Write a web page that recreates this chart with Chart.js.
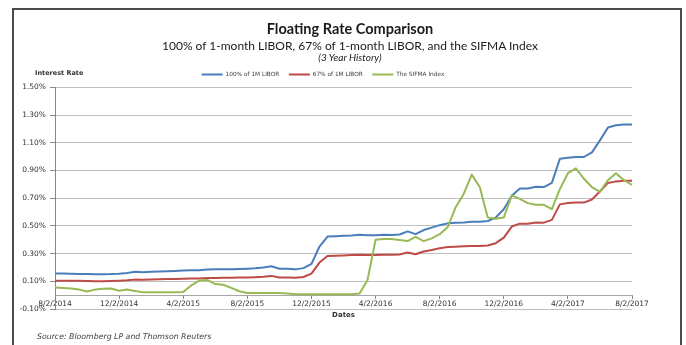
<!DOCTYPE html>
<html>
<head>
<meta charset="utf-8">
<script src="https://cdn.jsdelivr.net/npm/chart.js@4.4.1/dist/chart.umd.min.js"></script>
<style>
html,body{margin:0;padding:0;background:#fff;}
#wrap{position:relative;width:686px;height:345px;overflow:hidden;background:#fff;}
#frame{position:absolute;left:12px;top:8px;width:670px;height:360px;border:2px solid #4a4a4a;box-sizing:border-box;}
canvas{position:absolute;left:0;top:0;}
.t{position:absolute;left:0;width:700px;text-align:center;color:#1a1a1a;white-space:nowrap;}
#title{top:20px;font:bold 14.5px Lato, "Liberation Sans", sans-serif;}
#sub{top:37.5px;font:12px Lato, "Liberation Sans", sans-serif;}
#hist{top:51px;font:italic 10px Lato, "Liberation Sans", sans-serif;}
#ylab{position:absolute;left:35px;top:69px;font:bold 6.5px "DejaVu Sans", sans-serif;color:#333;white-space:nowrap;}
#src{position:absolute;left:37px;top:332px;font:italic 7.8px "DejaVu Sans", sans-serif;color:#404040;white-space:nowrap;}
</style>
</head>
<body>
<div id="wrap">
  <canvas id="c" width="686" height="345"></canvas>
  <div id="frame"></div>
  <div class="t" id="title">Floating Rate Comparison</div>
  <div class="t" id="sub">100% of 1-month LIBOR, 67% of 1-month LIBOR, and the SIFMA Index</div>
  <div class="t" id="hist">(3 Year History)</div>
  <div id="ylab">Interest Rate</div>
  <div id="src">Source: Bloomberg LP and Thomson Reuters</div>
</div>
<script>
// Semi-monthly observation dates
const dates = [
 '8/2/2014','8/17/2014','9/2/2014','9/17/2014','10/2/2014','10/17/2014','11/2/2014','11/17/2014',
 '12/2/2014','12/17/2014','1/2/2015','1/17/2015','2/2/2015','2/17/2015','3/2/2015','3/17/2015',
 '4/2/2015','4/17/2015','5/2/2015','5/17/2015','6/2/2015','6/17/2015','7/2/2015','7/17/2015',
 '8/2/2015','8/17/2015','9/2/2015','9/17/2015','10/2/2015','10/17/2015','11/2/2015','11/17/2015',
 '12/2/2015','12/17/2015','1/2/2016','1/17/2016','2/2/2016','2/17/2016','3/2/2016','3/17/2016',
 '4/2/2016','4/17/2016','5/2/2016','5/17/2016','6/2/2016','6/17/2016','7/2/2016','7/17/2016',
 '8/2/2016','8/17/2016','9/2/2016','9/17/2016','10/2/2016','10/17/2016','11/2/2016','11/17/2016',
 '12/2/2016','12/17/2016','1/2/2017','1/17/2017','2/2/2017','2/17/2017','3/2/2017','3/17/2017',
 '4/2/2017','4/17/2017','5/2/2017','5/17/2017','6/2/2017','6/17/2017','7/2/2017','7/17/2017',
 '8/2/2017'
];

// Rates in percent
const libor100 = [0.157,0.156,0.154,0.153,0.152,0.151,0.151,0.152,0.155,0.160,
 0.168,0.166,0.168,0.170,0.173,0.175,0.177,0.179,0.180,0.185,
 0.186,0.186,0.187,0.189,0.191,0.194,0.199,0.208,0.190,0.190,
 0.186,0.195,0.225,0.350,0.423,0.425,0.428,0.431,0.436,0.433,
 0.433,0.435,0.434,0.438,0.460,0.440,0.470,0.487,0.505,0.518,
 0.522,0.525,0.530,0.530,0.535,0.560,0.620,0.717,0.770,0.770,
 0.782,0.780,0.810,0.984,0.992,0.997,0.997,1.030,1.117,1.210,
 1.226,1.232,1.232];

const libor67 = [0.104,0.104,0.103,0.103,0.102,0.101,0.101,0.102,0.104,0.107,
 0.112,0.111,0.113,0.114,0.116,0.117,0.119,0.120,0.121,0.124,
 0.124,0.125,0.125,0.127,0.128,0.130,0.133,0.139,0.127,0.127,
 0.125,0.131,0.155,0.235,0.283,0.285,0.287,0.289,0.292,0.290,
 0.290,0.291,0.291,0.293,0.308,0.295,0.315,0.326,0.338,0.347,
 0.350,0.352,0.355,0.355,0.358,0.375,0.415,0.495,0.516,0.516,
 0.524,0.523,0.543,0.655,0.665,0.668,0.668,0.690,0.748,0.810,
 0.821,0.825,0.825];

const sifma = [0.055,0.052,0.048,0.040,0.026,0.040,0.046,0.048,0.032,0.040,
 0.030,0.020,0.020,0.020,0.020,0.020,0.022,0.070,0.105,0.110,
 0.080,0.075,0.052,0.028,0.015,0.015,0.015,0.015,0.015,0.012,
 0.006,0.006,0.006,0.006,0.006,0.006,0.006,0.006,0.012,0.110,
 0.400,0.405,0.405,0.398,0.390,0.420,0.390,0.410,0.440,0.490,
 0.635,0.730,0.870,0.780,0.560,0.552,0.560,0.720,0.695,0.664,
 0.652,0.652,0.620,0.765,0.880,0.915,0.840,0.780,0.746,0.830,
 0.880,0.830,0.795];

const seriesNames = ['100% of 1M LIBOR', '67% of 1M LIBOR', 'The SIFMA Index'];
const seriesColors = ['#4a7ebb', '#be4b48', '#98b954'];
const xTickLabels = ['8/2/2014','12/2/2014','4/2/2015','8/2/2015','12/2/2015','4/2/2016','8/2/2016','12/2/2016','4/2/2017','8/2/2017'];
const yTickLabels = ['-0.10%','0.10%','0.30%','0.50%','0.70%','0.90%','1.10%','1.30%','1.50%'];

const allSeries = [libor100, libor67, sifma];
const datasets = allSeries.map((vals, k) => ({
  label: seriesNames[k],
  data: vals,
  borderColor: seriesColors[k],
  backgroundColor: seriesColors[k],
  borderWidth: 2,
  pointRadius: 0,
  pointHoverRadius: 0,
  fill: false,
  tension: 0,
  borderJoinStyle: 'round',
  order: 3 - k
}));

const isLabeled = i => xTickLabels.indexOf(dates[i]) !== -1;

new Chart(document.getElementById('c'), {
  type: 'line',
  data: { labels: dates, datasets },
  options: {
    responsive: false,
    animation: false,
    events: [],
    layout: { padding: { left: 14, right: 54, top: 62, bottom: 36 } },
    plugins: {
      title: { display: false },
      tooltip: { enabled: false },
      legend: {
        display: true,
        position: 'top',
        labels: {
          boxWidth: 21,
          boxHeight: 2,
          padding: 9.5,
          color: '#404040',
          font: { family: 'DejaVu Sans', size: 5.8 },
          sort: (a, b) => a.datasetIndex - b.datasetIndex,
          generateLabels: (chart) => {
            const items = Chart.defaults.plugins.legend.labels.generateLabels(chart);
            items.forEach(it => { it.lineWidth = 0; });
            return items;
          }
        }
      }
    },
    scales: {
      x: {
        type: 'category',
        position: { y: 0 },
        offset: false,
        border: { display: true, color: '#a6a6a6', width: 1 },
        grid: {
          drawOnChartArea: false,
          drawTicks: true,
          tickLength: 3,
          tickColor: (ctx) => isLabeled(ctx.index) ? '#868686' : 'rgba(0,0,0,0)'
        },
        ticks: {
          autoSkip: false,
          maxRotation: 0,
          minRotation: 0,
          padding: 1,
          color: '#333333',
          font: { family: 'DejaVu Sans', size: 7.5 },
          callback: function(value, index) { return isLabeled(index) ? dates[index] : ''; }
        },
        title: {
          display: true,
          text: 'Dates',
          color: '#333333',
          font: { family: 'DejaVu Sans', size: 7, weight: 'bold' },
          padding: { top: 2, bottom: 0 }
        }
      },
      y: {
        type: 'linear',
        min: -0.1,
        max: 1.5,
        afterFit: (scale) => { scale.width = 41; },
        border: { display: true, color: '#868686', width: 1 },
        grid: {
          color: '#bfbfbf',
          lineWidth: 1,
          drawTicks: true,
          tickLength: 5,
          tickColor: '#868686'
        },
        ticks: {
          stepSize: 0.2,
          padding: 4,
          color: '#333333',
          font: { family: 'DejaVu Sans', size: 7.5 },
          callback: function(value, index) { return yTickLabels[index]; }
        }
      }
    }
  }
});
</script>
</body>
</html>
